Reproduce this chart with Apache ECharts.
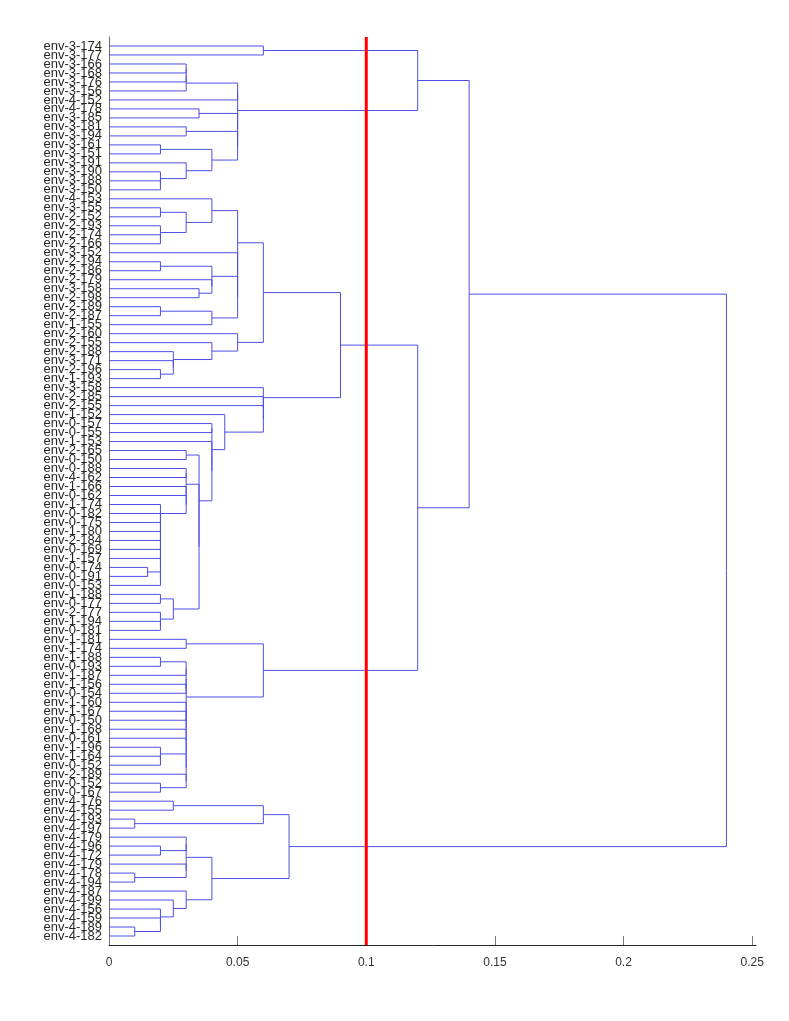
<!DOCTYPE html>
<html>
<head>
<meta charset="utf-8">
<script src="https://cdn.jsdelivr.net/npm/echarts@6/dist/echarts.min.js"></script>
<style>
html,body{margin:0;padding:0;background:#fff;}
#chart{width:789px;height:1021px;}
</style>
</head>
<body>
<div id="chart"></div>
<script>
// Leaf labels in display order (top to bottom)
const leafLabels = [
  'env-3-174','env-3-177','env-3-166','env-3-168','env-3-176','env-3-156','env-4-152','env-4-178','env-3-185','env-3-181',
  'env-3-194','env-3-161','env-3-151','env-3-191','env-3-190','env-3-188','env-3-150','env-4-153','env-3-155','env-2-152',
  'env-2-193','env-2-174','env-2-166','env-3-152','env-2-194','env-2-186','env-2-179','env-3-158','env-2-198','env-2-189',
  'env-2-187','env-1-155','env-2-160','env-2-155','env-2-188','env-3-171','env-2-196','env-1-193','env-3-158','env-2-185',
  'env-2-155','env-1-152','env-0-157','env-0-155','env-1-153','env-2-165','env-0-150','env-0-188','env-4-162','env-1-166',
  'env-0-162','env-1-174','env-0-182','env-0-175','env-1-180','env-2-184','env-0-169','env-1-157','env-0-174','env-0-191',
  'env-0-153','env-1-188','env-0-177','env-2-177','env-1-194','env-0-181','env-1-181','env-1-174','env-1-188','env-0-193',
  'env-1-187','env-1-156','env-0-154','env-1-160','env-1-167','env-0-150','env-1-168','env-0-161','env-1-196','env-1-164',
  'env-0-152','env-2-189','env-0-152','env-0-167','env-4-176','env-4-155','env-4-193','env-4-197','env-4-179','env-4-196',
  'env-4-172','env-4-179','env-4-178','env-4-194','env-4-187','env-4-199','env-4-156','env-4-159','env-4-189','env-4-182'
];

// Binary merges: [linkage distance, left, right]; numbers are leaf positions (1-based)
const cluster12 = [0.06, 1, 2];
const clusterA = [0.05,
  [0.05, [0.03, [0.03, [0.03, 3, 4], 5], 6], 7],
  [0.05, [0.035, 8, 9],
    [0.05, [0.03, 10, 11],
      [0.04, [0.02, 12, 13], [0.03, 14, [0.02, 15, [0.02, 16, 17]]]]]]
];
const clusterB = [0.05,
  [0.04, 18, [0.03, [0.02, 19, 20], [0.02, 21, [0.02, 22, 23]]]],
  [0.05, 24,
    [0.05,
      [0.04, [0.02, 25, 26], [0.04, 27, [0.035, 28, 29]]],
      [0.04, [0.02, 30, 31], 32]]]
];
const clusterC = [0.05, 33, [0.04, 34, [0.025, 35, [0.025, 36, [0.02, 37, 38]]]]];
const clusterW = [0.02, 52, [0.02, 53, [0.02, 54, [0.02, 55, [0.02, 56,
  [0.02, 57, [0.02, 58, [0.02, [0.015, 59, 60], 61]]]]]]]];
const clusterZ = [0.035,
  [0.03, 46, 47],
  [0.035,
    [0.03, [0.03, 48, 49], [0.03, 50, [0.03, 51, clusterW]]],
    [0.025, [0.02, 62, 63], [0.02, 64, [0.02, 65, 66]]]]
];
const clusterD = [0.06, 39, [0.06, 40, [0.06, 41,
  [0.045, 42, [0.04, [0.04, 43, 44], [0.04, 45, clusterZ]]]]]];
const clusterE = [0.06, [0.03, 67, 68],
  [0.03,
    [0.03, [0.03, [0.02, 69, 70], 71], [0.03, 72, 73]],
    [0.03, 74, [0.03, [0.03, 75, 76],
      [0.03, 77, [0.03, 78, [0.03, [0.02, 79, [0.02, 80, 81]], [0.03, 82, [0.02, 83, 84]]]]]]]]
];
const clusterF = [0.07,
  [0.06, [0.025, 85, 86], [0.01, 87, 88]],
  [0.04,
    [0.03, [0.03, 89, [0.02, 90, 91]], [0.03, 92, [0.01, 93, 94]]],
    [0.03, 95, [0.025, 96, [0.02, 97, [0.02, 98, [0.01, 99, 100]]]]]]
];
const rootTree = [0.24,
  [0.14, [0.12, cluster12, clusterA],
    [0.12, [0.09, [0.06, clusterB, clusterC], clusterD], clusterE]],
  clusterF
];

const xTickValues = [0, 0.05, 0.1, 0.15, 0.2, 0.25];
const xMax = 0.2515;
const cutoffValue = 0.1;

// build U-shaped links from the linkage tree
const segments = [];
function layout(node) {
  if (!Array.isArray(node)) return { y: node, h: 0 };
  const h = node[0];
  const a = layout(node[1]);
  const b = layout(node[2]);
  segments.push({ coords: [[a.h, a.y], [h, a.y], [h, b.y], [b.h, b.y]] });
  return { y: (a.y + b.y) / 2, h: h };
}
layout(rootTree);

const leafPositions = leafLabels.map((_, i) => i + 1);
const oddLeaves = leafPositions.filter(p => p % 2 === 1);
const evenLeaves = leafPositions.filter(p => p % 2 === 0);

function leafAxis(values, showLine) {
  return {
    type: 'value', min: 0, max: leafLabels.length + 1, inverse: true, position: 'left', offset: 0,
    splitLine: { show: false },
    axisLine: { show: showLine, onZero: false, lineStyle: { color: '#707070', width: 1 } },
    axisTick: { show: false },
    axisLabel: {
      customValues: values, fontSize: 13, color: '#262626', margin: 7,
      fontFamily: 'Liberation Sans, Arial, sans-serif',
      showMinLabel: true, showMaxLabel: true, hideOverlap: false,
      formatter: v => leafLabels[Math.round(v) - 1] || ''
    }
  };
}

const chart = echarts.init(document.getElementById('chart'), null, { renderer: 'canvas' });
chart.setOption({
  animation: false,
  backgroundColor: '#ffffff',
  grid: { left: 109, top: 37, width: 647, height: 908, containLabel: false },
  xAxis: {
    type: 'value', min: 0, max: xMax, position: 'bottom',
    splitLine: { show: false },
    axisLine: { show: true, onZero: false, lineStyle: { color: '#262626', width: 1 } },
    axisTick: { show: true, inside: true, length: 9, customValues: xTickValues, lineStyle: { color: '#777777' } },
    axisLabel: {
      customValues: xTickValues, fontSize: 12, color: '#333333', margin: 12,
      fontFamily: 'Liberation Sans, Arial, sans-serif',
      showMinLabel: true, showMaxLabel: true,
      formatter: v => String(Math.round(v * 100) / 100)
    }
  },
  yAxis: [leafAxis(oddLeaves, true), leafAxis(evenLeaves, false)],
  series: [
    {
      type: 'lines', coordinateSystem: 'cartesian2d', polyline: true,
      xAxisIndex: 0, yAxisIndex: 0,
      data: segments, silent: true, z: 2,
      lineStyle: { color: '#4e4ee6', width: 1, opacity: 1 }
    },
    {
      type: 'line', xAxisIndex: 0, yAxisIndex: 0,
      data: [[cutoffValue, 0], [cutoffValue, leafLabels.length + 1]],
      symbol: 'none', silent: true, z: 5,
      lineStyle: { color: '#ff0000', width: 3 }
    }
  ]
});
</script>
</body>
</html>
